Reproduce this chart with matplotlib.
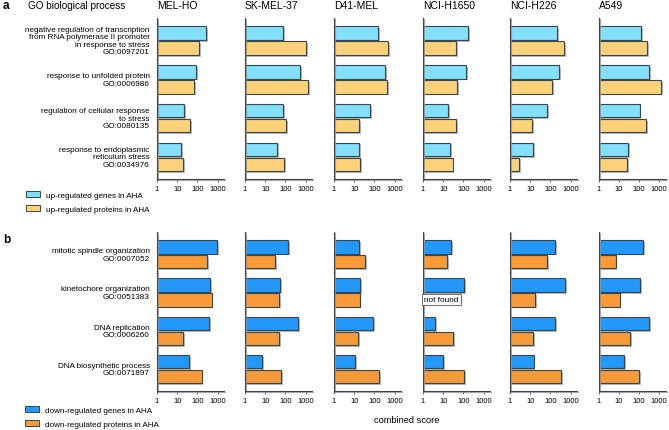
import numpy as np
import matplotlib
matplotlib.use("Agg")
import matplotlib.pyplot as plt
import matplotlib.patheffects as pe
from matplotlib.patches import Patch

plt.rcParams['font.family'] = ['Liberation Sans', 'DejaVu Sans']

# ---- data (combined score) ----
cell_lines = ["MEL-HO", "SK-MEL-37", "D41-MEL", "NCI-H1650", "NCI-H226", "A549"]

up_terms = ["negative regulation of transcription\nfrom RNA polymerase II promoter\nin response to stress\nGO:0097201",
            "response to unfolded protein\nGO:0006986",
            "regulation of cellular response\nto stress\nGO:0080135",
            "response to endoplasmic\nreticulum stress\nGO:0034976"]
down_terms = ["mitotic spindle organization\nGO:0007052",
              "kinetochore organization\nGO:0051383",
              "DNA replication\nGO:0006260",
              "DNA biosynthetic process\nGO:0071897"]

up_genes = [[260, 83, 21, 16],
            [74, 550, 80, 38],
            [152, 325, 64, 18],
            [165, 141, 18, 23],
            [207, 260, 66, 14],
            [123, 315, 109, 30]]
up_proteins = [[123, 66, 44, 20],
               [1050, 1300, 105, 83],
               [480, 430, 17, 20],
               [44, 50, 44, 29],
               [475, 126, 12, 2.8],
               [260, 1260, 224, 25]]

down_genes = [[970, 410, 380, 40],
              [133, 53, 420, 6.8],
              [17.5, 19.5, 87, 10.7],
              [25, 105, 4, 10],
              [174, 545, 178, 14.6],
              [155, 118, 308, 19]]
down_proteins = [[315, 510, 20, 160],
                 [32, 48, 48, 64],
                 [35, 18.5, 16, 174],
                 [15.6, np.nan, 31, 110],
                 [66, 17.5, 14.4, 350],
                 [7, 11, 38, 100]]

up_legend = ["up-regulated genes in AHA", "up-regulated proteins in AHA"]
down_legend = ["down-regulated genes in AHA", "down-regulated proteins in AHA"]
xticks = [1, 10, 100, 1000]

# colours
c_up_g, c_up_p = "#84dffd", "#fed27a"
c_dn_g, c_dn_p = "#2398fa", "#f99a38"
edge = "#37474d"

W, H = 669, 431
fig = plt.figure(figsize=(W / 100, H / 100), dpi=100)

col_x = [157, 245, 334, 423, 510, 598.5]   # left edge of each panel, px
ax_w = 67

shadow = [pe.SimplePatchShadow(offset=(1.3, -1.3), shadow_rgbFace="#9a9a9a", alpha=0.7), pe.Normal()]


def px_axes(x, top, bottom):
    return fig.add_axes([x / W, 1 - bottom / H, ax_w / W, (bottom - top) / H])


def draw_panel(ax, genes, prots, cg, cp):
    pos = np.arange(4)
    g = np.array(genes, dtype=float)
    p = np.array(prots, dtype=float)
    b1 = ax.barh(pos - 0.193, g - 1, left=1, height=0.35, color=cg, edgecolor=edge, linewidth=0.8)
    b2 = ax.barh(pos + 0.193, p - 1, left=1, height=0.35, color=cp, edgecolor=edge, linewidth=0.8)
    for b in list(b1) + list(b2):
        b.set_path_effects(shadow)
    ax.set_xscale("log")
    ax.set_xlim(1, 2080)
    ax.set_ylim(3.57, -0.58)
    ax.set_xticks(xticks)
    ax.set_xticklabels([str(t) for t in xticks], fontsize=5.5)
    ax.minorticks_off()
    ax.set_yticks([])
    ax.tick_params(axis="x", length=2.5, width=0.6, pad=2, color="#444444")
    for s in ["top", "right"]:
        ax.spines[s].set_visible(False)
    for s in ["left", "bottom"]:
        ax.spines[s].set_linewidth(0.8)
        ax.spines[s].set_color("#444444")
        ax.spines[s].set_path_effects([pe.SimpleLineShadow(offset=(1, -1), shadow_color="#999999", alpha=0.8), pe.Normal()])
    ax.patch.set_alpha(0)


top_axes = []
bot_axes = []
for i, name in enumerate(cell_lines):
    ax = px_axes(col_x[i], 19, 180)
    draw_panel(ax, up_genes[i], up_proteins[i], c_up_g, c_up_p)
    top_axes.append(ax)
    fig.text(col_x[i] / W, 1 - 6 / H, name, fontsize=7.5, va="center", ha="left")

    ax = px_axes(col_x[i], 233, 392)
    draw_panel(ax, down_genes[i], down_proteins[i], c_dn_g, c_dn_p)
    bot_axes.append(ax)

# "not found" marker for the missing value
nf = np.where(np.isnan(np.array(down_proteins[3])))[0]
for k in nf:
    bot_axes[3].text(1.18, k + 0.193, "not found", fontsize=5.9, va="center", ha="left",
                     bbox=dict(boxstyle="square,pad=0.25", fc="white", ec="#555555", lw=0.6))

# GO term labels
for k, t in enumerate(up_terms):
    top_axes[0].text(-0.11, k, t, transform=top_axes[0].get_yaxis_transform(),
                     ha="right", va="center", fontsize=5.85, linespacing=1.12)
for k, t in enumerate(down_terms):
    bot_axes[0].text(-0.11, k, t, transform=bot_axes[0].get_yaxis_transform(),
                     ha="right", va="center", fontsize=5.85, linespacing=1.12)

fig.text(3 / W, 1 - 6 / H, "a", fontsize=8.5, fontweight="bold", va="center")
fig.text(3 / W, 1 - 240 / H, "b", fontsize=8.5, fontweight="bold", va="center")
fig.text(27.5 / W, 1 - 6 / H, "GO biological process", fontsize=7.2, va="center")
fig.text(407 / W, 1 - 421 / H, "combined score", fontsize=6.7, va="center", ha="center")

# legends
h_up = [Patch(fc=c_up_g, ec=edge, lw=0.7), Patch(fc=c_up_p, ec=edge, lw=0.7)]
h_dn = [Patch(fc=c_dn_g, ec=edge, lw=0.7), Patch(fc=c_dn_p, ec=edge, lw=0.7)]
fig.legend(h_up, up_legend, loc="upper left", bbox_to_anchor=(24 / W, 1 - 190 / H), frameon=False,
           fontsize=5.9, handlelength=1.6, handleheight=0.7, labelspacing=0.75, handletextpad=0.75,
           borderaxespad=0, borderpad=0.3)
fig.legend(h_dn, down_legend, loc="upper left", bbox_to_anchor=(23 / W, 1 - 405 / H), frameon=False,
           fontsize=5.9, handlelength=1.6, handleheight=0.7, labelspacing=0.75, handletextpad=0.75,
           borderaxespad=0, borderpad=0.3)

fig.savefig("out.png", dpi=100)
